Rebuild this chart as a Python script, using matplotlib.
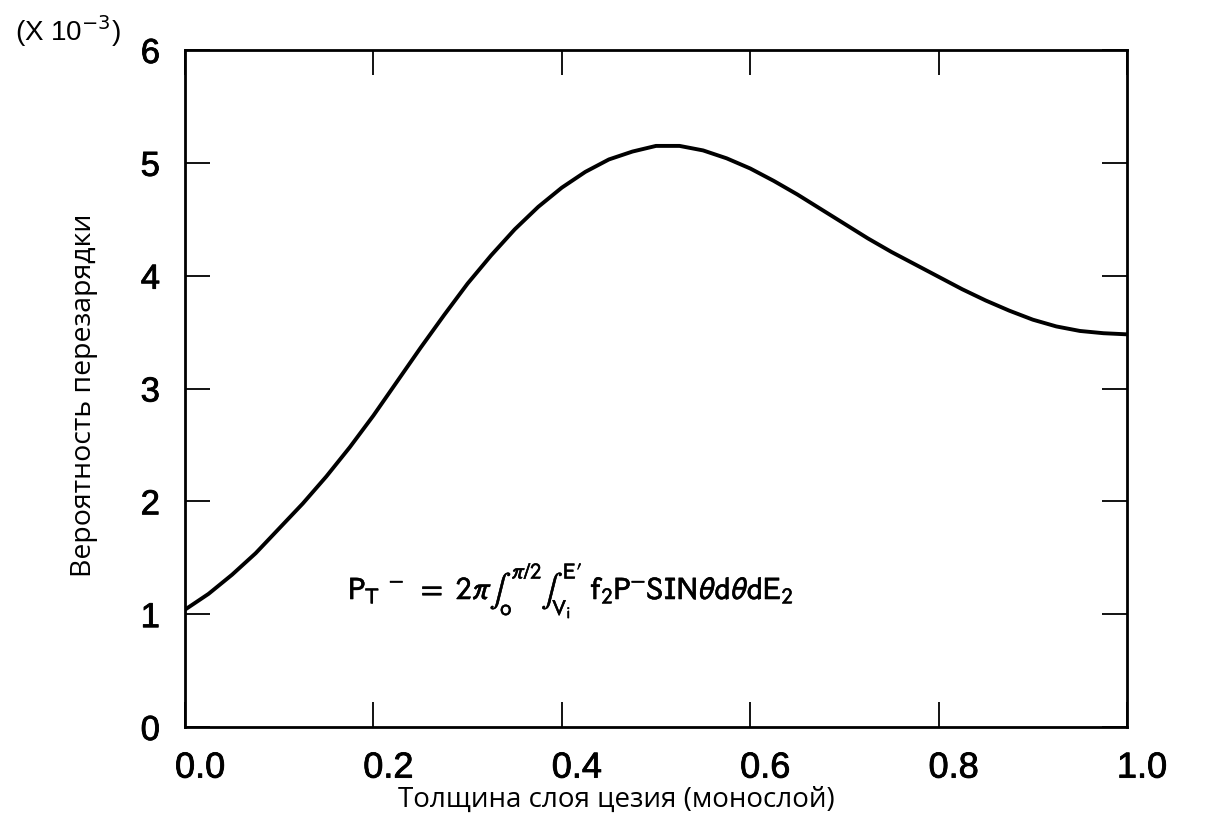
import matplotlib
matplotlib.use('Agg')
import matplotlib.pyplot as plt
import matplotlib.transforms as mtransforms
import matplotlib.patheffects as pe

# thickness of the caesium layer (monolayers) and recharge probability (x 1e-3)
thickness = [0.000, 0.025, 0.050, 0.075, 0.100, 0.125, 0.150, 0.175, 0.200,
             0.225, 0.250, 0.275, 0.300, 0.325, 0.350, 0.375, 0.400, 0.425,
             0.450, 0.475, 0.500, 0.525, 0.550, 0.575, 0.600, 0.625, 0.650,
             0.675, 0.700, 0.725, 0.750, 0.775, 0.800, 0.825, 0.850, 0.875,
             0.900, 0.925, 0.950, 0.975, 1.000]
prob = [1.04, 1.18, 1.35, 1.54, 1.76, 1.98, 2.22, 2.48, 2.76,
        3.06, 3.36, 3.65, 3.93, 4.18, 4.41, 4.61, 4.78, 4.92,
        5.03, 5.10, 5.15, 5.15, 5.11, 5.04, 4.95, 4.84, 4.72,
        4.59, 4.46, 4.33, 4.21, 4.10, 3.99, 3.88, 3.78, 3.69,
        3.61, 3.55, 3.51, 3.49, 3.48]

xticks = [0.0, 0.2, 0.4, 0.6, 0.8, 1.0]
xticklabels = ['0.0', '0.2', '0.4', '0.6', '0.8', '1.0']
yticks = [0, 1, 2, 3, 4, 5, 6]

plt.rcParams['font.family'] = ['Liberation Sans', 'DejaVu Sans']

thick = [pe.withStroke(linewidth=0.6, foreground='black')]
thin = [pe.withStroke(linewidth=0.35, foreground='black')]

fig = plt.figure(figsize=(12.07, 8.26), dpi=100)
ax = fig.add_axes([185/1207, 1-727/826, (1127-185)/1207, (727-50)/826])

ax.plot(thickness, prob, color='black', linewidth=2.8, solid_capstyle='round',
        solid_joinstyle='round')

ax.set_xlim(0, 1)
ax.set_ylim(0, 6)
ax.set_xticks(xticks)
ax.set_xticklabels(xticklabels, fontsize=26)
ax.set_yticks(yticks)
ax.set_yticklabels([str(v) for v in yticks], fontsize=25)
for lbl in ax.get_xticklabels() + ax.get_yticklabels():
    lbl.set_path_effects(thick)

for s in ax.spines.values():
    s.set_linewidth(2.0)

ax.tick_params(axis='both', direction='in', length=18, width=1.3,
               top=True, right=True)
ax.tick_params(axis='x', pad=17)
ax.tick_params(axis='y', pad=18)

# x labels sit slightly right of their ticks in the original
offset = mtransforms.ScaledTranslation(15/100, 0, fig.dpi_scale_trans)
for lbl in ax.get_xticklabels():
    lbl.set_transform(lbl.get_transform() + offset)

formula = (r'$\mathrm{P_T}^{\ -}\ \mathrm{=\ 2}\pi\int_\mathrm{o}^{\pi\mathrm{/2}}'
           r'\int_{\mathrm{V_i}}^{\mathrm{E}\prime}\ \mathrm{f_2P^{-}SIN}\theta \mathrm{d}\theta \mathrm{dE_2}$')
ax.text(0.41, 1.21, formula, fontsize=23, ha='center', va='center',
        math_fontfamily='stixsans', path_effects=thin)

fig.text(15/1207, 1-31/826, r'(X 10$^{-3}$)', fontsize=20, ha='left', va='center')

fig.text(84/1207, 1-395/826, 'Вероятность перезарядки', rotation=90,
         fontsize=20.5, family=['Open Sans', 'DejaVu Sans'], ha='center', va='center')
fig.text(616/1207, 1-800/826, 'Толщина слоя цезия (монослой)',
         fontsize=20, family=['Open Sans', 'DejaVu Sans'], ha='center', va='center')

plt.savefig('out.png', dpi=100)
